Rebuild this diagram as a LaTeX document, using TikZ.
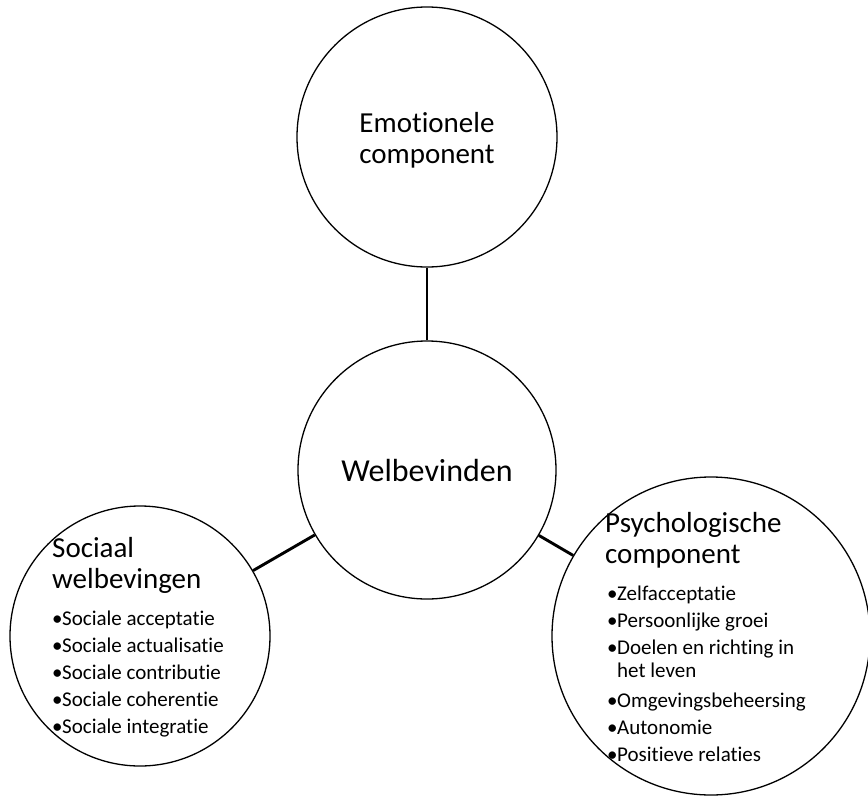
\documentclass[tikz,border=0pt]{standalone}
\usepackage{fontspec}
\setmainfont{Carlito}[Ligatures=NoCommon]
\usetikzlibrary{positioning}

\newcommand{\itm}[1]{\makebox[10pt][l]{\textbullet}#1}

\begin{document}
\begin{tikzpicture}[
    x=1pt, y=-1pt,
    bol/.style={circle, draw, line width=1.3pt, inner sep=0pt},
    title/.style={align=left, inner sep=0pt,
                  font=\fontsize{29}{31}\selectfont},
    lijst/.style={align=left, inner sep=0pt,
                  font=\fontsize{21}{27}\selectfont},
    link/.style={line width=2.9pt}
]
  \useasboundingbox (0,0) rectangle (868,798);

  % Circles
  \node[bol, minimum size=258pt, font=\fontsize{32}{34}\selectfont]
    (hub) at (427,470) {Welbevinden};
  \node[bol, minimum size=260pt] (emo) at (427,137) {};
  \node[bol, minimum size=260pt] (soc) at (140,636) {};
  \node[bol, minimum size=318pt] (psy) at (711,636) {};

  % Emotionele component
  \node[title, align=center, anchor=base] (emo-t) at (427,163)
    {Emotionele\\component};

  % Sociaal welbevingen (anchored at last baseline)
  \node[title, anchor=base west] (soc-t) at (52,588) {Sociaal\\welbevingen};
  \node[lijst, anchor=base west] (soc-l) at (52,733)
    {\itm{Sociale acceptatie}\\
     \itm{Sociale actualisatie}\\
     \itm{Sociale contributie}\\
     \itm{Sociale coherentie}\\
     \itm{Sociale integratie}};

  % Psychologische component
  \node[title, anchor=base west] (psy-t) at (605,563) {Psychologische\\component};
  \node[lijst, anchor=base west] (psy-l) at (607,761)
    {\itm{Zelfacceptatie}\\
     \itm{Persoonlijke groei}\\
     \itm{Doelen en richting in}\\[-4pt]
     \hspace*{10pt}het leven\\[3pt]
     \itm{Omgevingsbeheersing}\\
     \itm{Autonomie}\\
     \itm{Positieve relaties}};

  % Links
  \draw[link] (hub) -- (emo);
  \draw[link] (hub) -- (soc);
  \draw[link] (hub) -- (psy);
\end{tikzpicture}
\end{document}
